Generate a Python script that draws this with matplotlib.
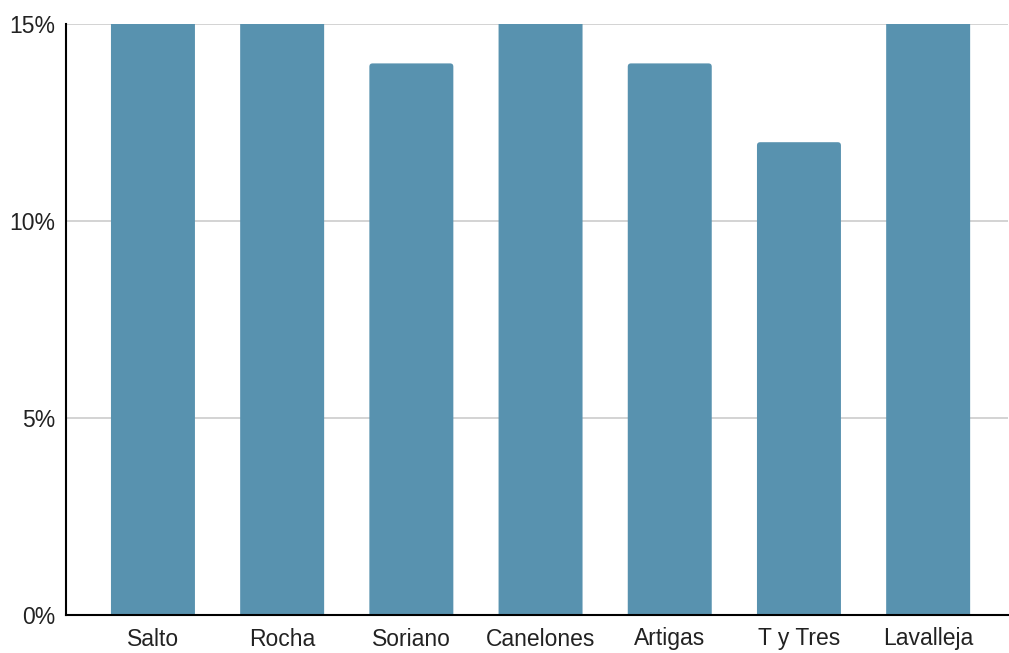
import matplotlib
matplotlib.use("Agg")
import matplotlib.pyplot as plt
from matplotlib.ticker import FuncFormatter
from matplotlib.patches import FancyBboxPatch

categories = ["Salto", "Rocha", "Soriano", "Canelones", "Artigas", "T y Tres", "Lavalleja"]
values = [15, 15, 14, 15, 14, 12, 15]
yticks = [0, 5, 10, 15]

plt.rcParams['font.family'] = ['Liberation Sans', 'DejaVu Sans']

fig = plt.figure(figsize=(10.09, 6.53), dpi=100)
ax = fig.add_axes([66/1009, 38/653, (1008-66)/1009, (615-24)/653])
ymax = 15

x = list(range(len(categories)))
bars = ax.bar(x, values, width=0.65, color="#5892AF", zorder=3)
# slightly rounded top corners (bars reaching the axis top are clipped square)
for b in bars:
    b.set_visible(False)
    h = b.get_height()
    extra = 0.5 if h >= ymax else 0
    r = FancyBboxPatch((b.get_x(), b.get_y() - 0.3), b.get_width(), h + 0.3 + extra,
                       boxstyle="round,pad=0,rounding_size=0.025",
                       mutation_aspect=15 / 7.29 * (942 / 591),
                       facecolor="#5892AF", edgecolor="none", zorder=3, clip_on=True)
    ax.add_patch(r)

ax.set_xlim(-0.673, 6.618)
ax.set_ylim(0, ymax)
ax.set_yticks(yticks)
ax.yaxis.set_major_formatter(FuncFormatter(lambda v, p: f"{int(v)}%"))
ax.set_xticks(x)
ax.set_xticklabels(categories)
ax.tick_params(axis='both', length=0, labelsize=16.5, colors="#222222")
ax.tick_params(axis='y', pad=8)
ax.tick_params(axis='x', pad=9)
ax.grid(axis='y', color="#cccccc", linewidth=1.2, zorder=0)
for s in ["top", "right"]:
    ax.spines[s].set_visible(False)
for s in ["left", "bottom"]:
    ax.spines[s].set_color("#000000")
    ax.spines[s].set_linewidth(1.5)
    ax.spines[s].set_zorder(4)

fig.savefig("out.png", dpi=100)
